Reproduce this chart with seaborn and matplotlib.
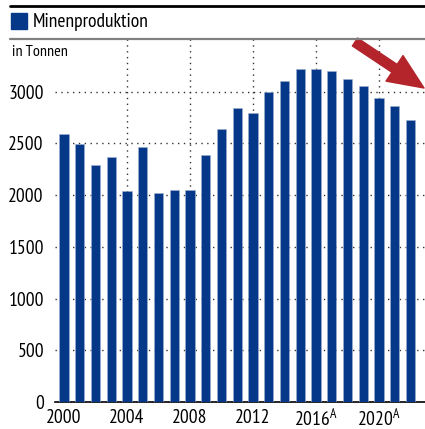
import numpy as np
import pandas as pd
import seaborn as sns
import matplotlib.pyplot as plt
from matplotlib.lines import Line2D
from matplotlib.patches import Rectangle

# Minenproduktion in Tonnen
jahre = list(range(2000, 2023))
produktion = [2590, 2490, 2290, 2370, 2040, 2470, 2020, 2050, 2050, 2390,
              2640, 2840, 2790, 3000, 3100, 3220, 3220, 3200, 3125, 3055,
              2940, 2865, 2730]
tick_jahre = [2000, 2004, 2008, 2012, 2016, 2020]
tick_labels = ["2000", "2004", "2008", "2012", "2016$^{A}$", "2020$^{A}$"]
y_ticks = [0, 500, 1000, 1500, 2000, 2500, 3000]

sns.set_style("white")
plt.rcParams['font.family'] = ['PT Sans Narrow', 'Liberation Sans', 'DejaVu Sans']
plt.rcParams['mathtext.default'] = 'regular'
plt.rcParams['text.color'] = 'black'
plt.rcParams['xtick.color'] = 'black'
plt.rcParams['ytick.color'] = 'black'

blau = "#06388a"
rot = "#b3242b"

df = pd.DataFrame({"jahr": jahre, "wert": produktion})

W, H = 425, 429
fig = plt.figure(figsize=(W / 100, H / 100), dpi=100)
ax = fig.add_axes([55 / W, 1 - 402 / H, 370 / W, (402 - 39) / H])

sns.barplot(data=df, x="jahr", y="wert", color=blau, width=0.6,
            saturation=1, ax=ax, zorder=3)
for p in ax.patches:
    p.set_edgecolor("#9fb0d0")
    p.set_linewidth(0.4)

ax.set_xlim(-0.57, 22.92)
ax.set_ylim(0, 3510)
ax.set_xlabel("")
ax.set_ylabel("")

# gitter
for y in y_ticks[1:]:
    ax.axhline(y, color="#333333", lw=1.0, ls=(0, (1, 3.2)), zorder=1)
for j in tick_jahre[1:]:
    ax.axvline(jahre.index(j), color="#333333", lw=1.0, ls=(0, (1, 3.2)), zorder=1)

ax.set_yticks(y_ticks)
ax.set_yticklabels([str(v) for v in y_ticks], fontsize=14)
ax.set_xticks([jahre.index(j) for j in tick_jahre])
ax.set_xticklabels(tick_labels, fontsize=14)
ax.tick_params(axis="both", length=0)
ax.tick_params(axis="y", pad=8)
ax.tick_params(axis="x", pad=5)

for s in ["left", "right", "top"]:
    ax.spines[s].set_visible(False)
ax.spines["bottom"].set_color("black")
ax.spines["bottom"].set_linewidth(1.2)

# kopfbereich
fig.add_artist(Line2D([10 / W, 1], [1 - 5.5 / H, 1 - 5.5 / H], color="black", lw=2.0))
fig.add_artist(Line2D([10 / W, 1], [1 - 39 / H, 1 - 39 / H], color="#808080", lw=1.6))
fig.add_artist(Rectangle((11 / W, 1 - 29 / H), 16 / W, 16 / H, color=blau,
                         transform=fig.transFigure))
fig.text(33 / W, 1 - 22 / H, "Minenproduktion", fontsize=14, va="center", ha="left")
fig.text(12 / W, 1 - 52 / H, "in Tonnen", fontsize=11.5, va="center", ha="left")

# roter pfeil
ax.annotate("", xy=(424 / W, 1 - 88 / H), xytext=(355 / W, 1 - 42 / H),
            xycoords="figure fraction", textcoords="figure fraction",
            arrowprops=dict(arrowstyle="simple,head_length=1.5,head_width=1.3,tail_width=0.4",
                            mutation_scale=17, color=rot, shrinkA=0, shrinkB=0),
            annotation_clip=False)

fig.savefig("out.png", dpi=100)
